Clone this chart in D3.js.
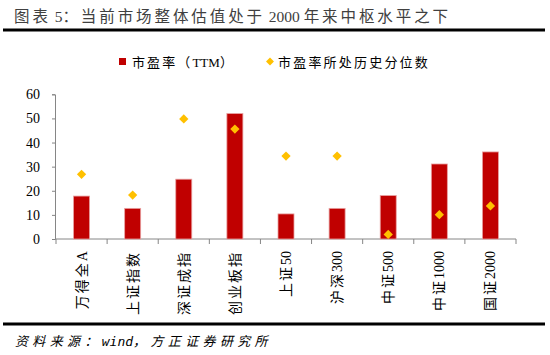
<!DOCTYPE html>
<html><head><meta charset="utf-8">
<script src="https://cdn.jsdelivr.net/npm/d3@7"></script>
<style>body{margin:0;background:#fff}svg{display:block}</style>
</head><body>
<script>
const categories = ["万得全A","上证指数","深证成指","创业板指","上证50","沪深300","中证500","中证1000","国证2000"];
const peValues = [17.8, 12.7, 24.8, 52.0, 10.4, 12.7, 18.0, 31.1, 36.1];
const pctValues = [26.8, 18.2, 49.8, 45.6, 34.4, 34.4, 1.9, 10.1, 13.7];
const yTicks = [0, 10, 20, 30, 40, 50, 60];
const seriesNames = ["市盈率（TTM）", "市盈率所处历史分位数"];
const titleText = "图表 5：当前市场整体估值处于 2000 年来中枢水平之下";
const sourceText = "资料来源：wind，方正证券研究所";

const W = 550, H = 355;
const svg = d3.select("body").append("svg").attr("width", W).attr("height", H);
const cjk = "'Liberation Serif','Noto Sans CJK SC',serif";

const isCJK = ch => /[\u3000-\u9fff\uff00-\uffef]/.test(ch);
function runs(str) {
  const out = [];
  for (const ch of str) {
    const c = isCJK(ch);
    if (out.length && out[out.length - 1].c === c) out[out.length - 1].s += ch;
    else out.push({ c, s: ch });
  }
  return out;
}
function rich(sel, str, spacing) {
  sel.selectAll("tspan").data(runs(str)).enter().append("tspan")
    .attr("class", d => d.c ? "cj" : "lt")
    .text(d => d.s);
  sel.selectAll("tspan.cj").attr("letter-spacing", spacing);
  return sel;
}
function fitCJK(sel, str, target) {
  sel.selectAll("tspan.cj").attr("letter-spacing", 0);
  const w = sel.node().getComputedTextLength();
  const n = [...str].filter(isCJK).length;
  sel.selectAll("tspan.cj").attr("letter-spacing", Math.max(0, (target - w) / n));
  return sel;
}

// title
const title = svg.append("text").attr("x", 14).attr("y", 22).attr("font-family", cjk)
  .attr("font-size", 15.5).attr("fill", "#404040");
fitCJK(rich(title, titleText, 0), titleText, 437);
svg.append("line").attr("x1", 3).attr("x2", 545).attr("y1", 30).attr("y2", 30)
  .attr("stroke", "#000").attr("stroke-width", 3);

// legend
const lg = svg.append("g").attr("font-family", cjk).attr("font-size", 13).attr("fill", "#000");
lg.append("rect").attr("x", 119).attr("y", 58).attr("width", 7).attr("height", 7).attr("fill", "#C00000");
const l1 = lg.append("text").attr("x", 132).attr("y", 66.5);
fitCJK(rich(l1, seriesNames[0], 0), seriesNames[0], 103);
lg.append("path").attr("d", d3.symbol(d3.symbolDiamond2, 40)()).attr("transform", "translate(270,61.5)").attr("fill", "#FFC000");
const l2 = lg.append("text").attr("x", 278).attr("y", 66.5);
fitCJK(rich(l2, seriesNames[1], 0), seriesNames[1], 152);

// scales
const x = d3.scaleBand().domain(categories).range([56, 516]);
const y = d3.scaleLinear().domain([0, 60]).range([239, 94.3]);

// y axis
const ya = svg.append("g").attr("transform", "translate(55,0)")
  .call(d3.axisLeft(y).tickValues(yTicks).tickSize(3).tickPadding(12).tickFormat(d3.format("d")));
ya.select(".domain").attr("stroke", "#868686");
ya.selectAll(".tick line").attr("stroke", "#868686");
ya.selectAll("text").attr("font-family", "'Liberation Serif',serif").attr("font-size", 14).attr("fill", "#000");

// x axis
const xa = svg.append("g").attr("transform", "translate(0,239)")
  .call(d3.axisBottom(x).tickSize(0).tickFormat(""));
xa.select(".domain").attr("d", "M55,0H516").attr("stroke", "#868686");
const bounds = categories.map(c => x(c)).concat([x.range()[1]]);
xa.selectAll(".sep").data(bounds).enter().append("line").attr("class", "sep")
  .attr("x1", d => d).attr("x2", d => d).attr("y1", 0).attr("y2", 5).attr("stroke", "#868686");
xa.selectAll(".lbl").data(categories).enter().append("text").attr("class", "lbl")
  .attr("transform", d => `translate(${x(d) + x.bandwidth() / 2 + 5},12) rotate(-90)`)
  .attr("text-anchor", "end").attr("font-family", cjk).attr("font-size", 14).attr("fill", "#000")
  .each(function (d) { rich(d3.select(this), d, 2); });

// bars
const bw = 16;
svg.append("g").selectAll("rect").data(categories).enter().append("rect")
  .attr("x", (d) => x(d) + x.bandwidth() / 2 - bw / 2)
  .attr("width", bw)
  .attr("y", (d, i) => y(peValues[i]))
  .attr("height", (d, i) => y(0) - y(peValues[i]))
  .attr("fill", "#C00000").attr("stroke", "#E8A0A0").attr("stroke-width", 0.8);

// diamonds
svg.append("g").selectAll("path").data(categories).enter().append("path")
  .attr("d", d3.symbol(d3.symbolDiamond2, 55)())
  .attr("transform", (d, i) => `translate(${x(d) + x.bandwidth() / 2},${y(pctValues[i])})`)
  .attr("fill", "#FFC000");

// bottom line and source
svg.append("line").attr("x1", 3).attr("x2", 545).attr("y1", 324).attr("y2", 324)
  .attr("stroke", "#000").attr("stroke-width", 3);
const src = svg.append("text").attr("x", 15).attr("y", 346).attr("font-family", "'Noto Sans CJK SC',sans-serif")
  .attr("font-style", "italic").attr("font-size", 13).attr("fill", "#000");
rich(src, sourceText, 0);
src.selectAll("tspan.lt").attr("font-family", "'DejaVu Sans Mono',monospace").attr("font-size", 13);
fitCJK(src, sourceText, 257);
</script>
</body></html>
